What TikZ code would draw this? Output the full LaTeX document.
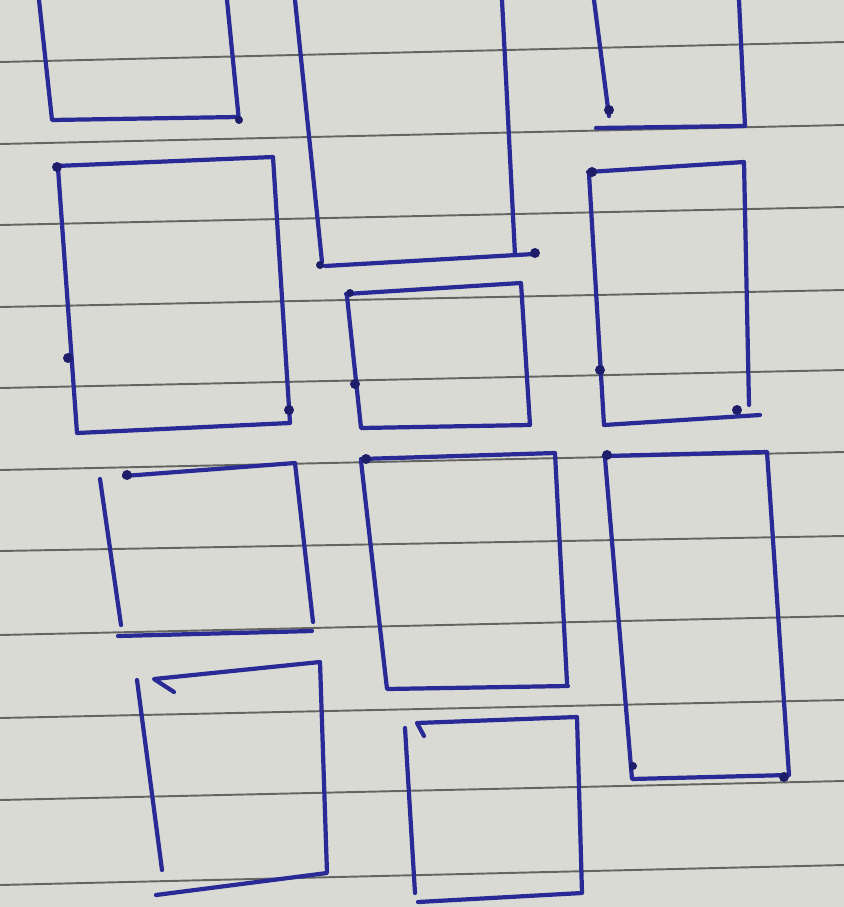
\documentclass[tikz,border=0pt]{standalone}
\usepackage{tikz}

\definecolor{paper}{RGB}{218,218,213}
\definecolor{rulegrey}{RGB}{100,100,98}
\definecolor{pen}{RGB}{42,42,150}

\tikzset{
    rule/.style={draw=rulegrey, line width=1.1pt},
    ink/.style={draw=pen, line width=2.4pt, line cap=round, line join=round},
    blob/.style={fill=pen!70!black}
}

\begin{document}
\begin{tikzpicture}[x=0.02cm, y=-0.02cm]
    % Paper
    \useasboundingbox (0,0) rectangle (844,907);
    \fill[paper] (0,0) rectangle (844,907);

    % Ruled lines of the page
    \foreach \ya/\yb in {62/42, 144/125, 225/207, 307/290, 388/370,
                         470/452, 551/536, 635/616, 718/700, 800/781, 885/865}
        \draw[rule] (0,\ya) -- (844,\yb);

    % Top row (cut by the top edge)
    \draw[ink] (39,0) -- (52,120) -- (238,117);
    \draw[ink] (227,0) -- (239,121);
    \draw[ink] (295,0) -- (322,262);
    \draw[ink] (325,266) -- (534,254);
    \draw[ink] (502,0) -- (515,255);
    \draw[ink] (594,0) -- (609,116);
    \draw[ink] (596,128) -- (745,126) -- (739,0);

    % Second row
    \draw[ink] (56,166) -- (273,157) -- (290,423) -- (77,433) -- (58,168);
    \draw[ink] (346,294) -- (521,283) -- (530,425) -- (361,428) -- (347,296);
    \draw[ink] (588,172) -- (744,162) -- (749,405);
    \draw[ink] (589,174) -- (604,425) -- (760,415);

    % Third row
    \draw[ink] (100,479) -- (121,625);
    \draw[ink] (124,476) -- (295,463) -- (313,622);
    \draw[ink] (118,636) -- (312,631);
    \draw[ink] (361,459) -- (555,453) -- (567,683);
    \draw[ink] (361,461) -- (387,689) -- (568,686);
    \draw[ink] (604,456) -- (767,452) -- (789,775) -- (632,779) -- (605,458);

    % Bottom row
    \draw[ink] (137,680) -- (162,870);
    \draw[ink] (174,692) -- (154,679) -- (320,662) -- (327,873) -- (156,895);
    \draw[ink] (405,728) -- (415,893);
    \draw[ink] (424,736) -- (417,723) -- (577,717) -- (582,893) -- (418,902);

    % Pen blobs
    \foreach \bx/\by/\br in {239/120/4, 535/253/5, 609/110/5, 57/167/5,
                             68/358/5, 289/410/5, 350/293/4, 355/384/5,
                             592/172/5, 600/370/5, 737/410/5, 366/459/5,
                             607/455/5, 784/777/5, 127/475/5, 633/766/4,
                             320/265/4}
        \fill[blob] (\bx,\by) circle (\br);
\end{tikzpicture}
\end{document}
